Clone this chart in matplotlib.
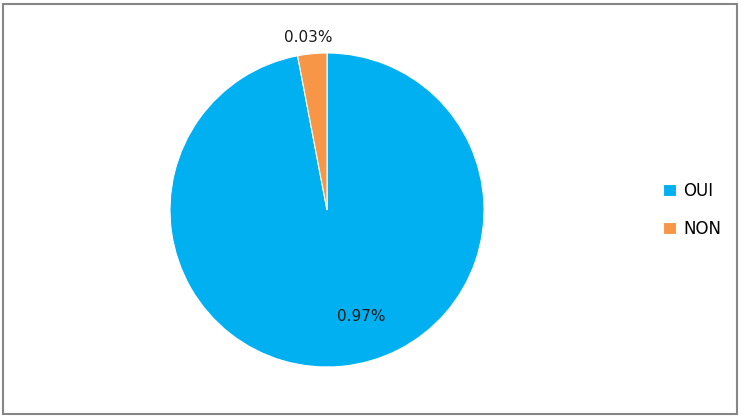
import matplotlib
matplotlib.use("Agg")
import matplotlib.pyplot as plt
from matplotlib.patches import Rectangle

categories = ["OUI", "NON"]
values = [0.97, 0.03]
value_labels = ["0.97%", "0.03%"]
colors = ["#00B0F0", "#F79646"]

W, H = 741, 418
fig = plt.figure(figsize=(W / 100, H / 100), dpi=100)
fig.patch.set_facecolor("white")

cx, cy, r = 327, 210, 157
ax = fig.add_axes([(cx - r) / W, (H - cy - r) / H, 2 * r / W, 2 * r / H])
wedges, _ = ax.pie(values, colors=colors, startangle=90, counterclock=False,
                   radius=1.0, wedgeprops=dict(edgecolor="white", linewidth=0.8))
ax.set_aspect("equal")
ax.set_xlim(-1, 1)
ax.set_ylim(-1, 1)
ax.axis("off")

label_pos = [(0.22, -0.68), (-0.12, 1.10)]
for (x, y), t in zip(label_pos, value_labels):
    ax.text(x, y, t, ha="center", va="center", fontsize=11, color="#1a1a1a",
            family="DejaVu Sans", clip_on=False)

leg = fig.legend(wedges, categories, loc="center left",
                 bbox_to_anchor=(648 / W, 1 - 210 / H), frameon=False,
                 fontsize=12, handlelength=0.75, handleheight=0.75,
                 handletextpad=0.45, labelspacing=1.2)

fig.add_artist(Rectangle((3 / W, 4 / H), (737 - 3) / W, (414 - 4) / H,
                         transform=fig.transFigure, fill=False,
                         edgecolor="#868686", linewidth=1.5))

fig.savefig("out.png", dpi=100)
